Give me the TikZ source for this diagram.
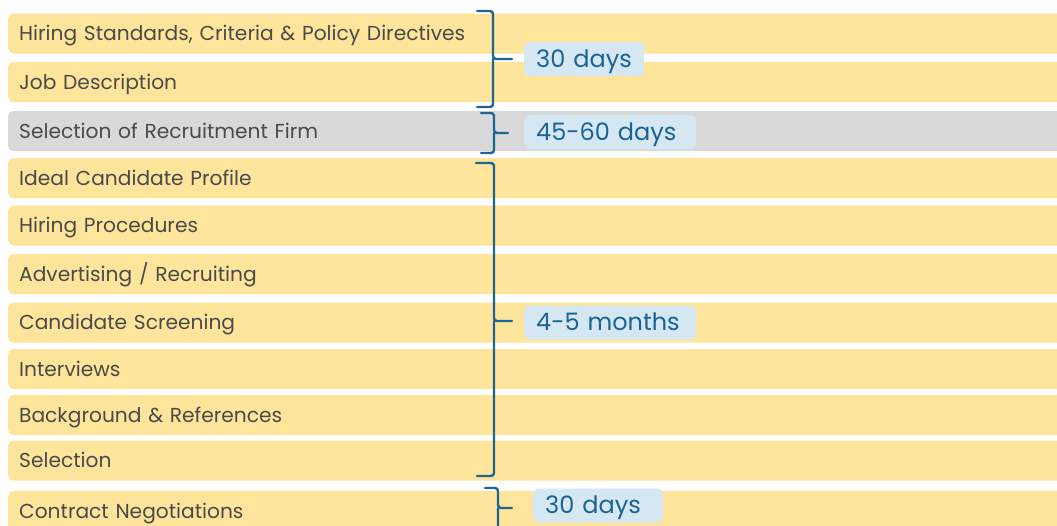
\documentclass[tikz,border=0pt]{standalone}
\usepackage{fontspec}
\setmainfont{Poppins}
\definecolor{barYellow}{HTML}{FEE59B}
\definecolor{barGrey}{HTML}{D9D9D9}
\definecolor{labelGray}{HTML}{4A4A4A}
\definecolor{boxBlue}{HTML}{D4E7F3}
\definecolor{dayBlue}{HTML}{1B6394}
\definecolor{braceBlue}{HTML}{1D6593}
\tikzset{
  bar/.style={fill=barYellow,rounded corners=5pt,minimum height=40pt,anchor=west,
    text width=1040pt,inner xsep=11pt,inner ysep=0pt,align=left,text=labelGray,
    text height=17pt,text depth=3pt,
    font=\fontsize{20.2}{22}\selectfont},
  greybar/.style={bar,fill=barGrey},
  daybox/.style={fill=boxBlue,rounded corners=6pt,minimum height=34pt,anchor=west,
    inner xsep=12pt,inner ysep=0pt,align=left,text=dayBlue,
    text height=19pt,text depth=3pt,
    font=\fontsize{24}{26}\selectfont},
  brace/.style={draw=braceBlue,line width=2.4pt,rounded corners=3pt}
}
\begin{document}
\begin{tikzpicture}[x=1pt,y=-1pt,line join=round,line cap=round]
		\useasboundingbox (0,0) rectangle (1057,525);
		\clip (0,0) rectangle (1057,525);
		% steps
		\node[bar] (standards) at (8,33.5) {Hiring Standards, Criteria \& Policy Directives};
		\node[bar] (jobdesc) at (8,82) {Job Description};
		\node[greybar] (firm) at (8,131) {Selection of Recruitment Firm};
		\node[bar] (profile) at (8,178) {Ideal Candidate Profile};
		\node[bar] (procedures) at (8,225.5) {Hiring Procedures};
		\node[bar] (advert) at (8,274) {Advertising / Recruiting};
		\node[bar] (screening) at (8,322.5) {Candidate Screening};
		\node[bar] (interviews) at (8,369) {Interviews};
		\node[bar] (background) at (8,415) {Background \& References};
		\node[bar] (selection) at (8,460.5) {Selection};
		\node[bar] (contract) at (8,511) {Contract Negotiations};
		% durations
		\node[daybox,text width=96pt] (d30a) at (524,59) {30 days};
		\node[daybox,text width=148pt] (d4560) at (524,132) {45-60 days};
		\node[daybox,text width=148pt] (d45m) at (524,322.5) {4-5 months};
		\node[daybox,text width=106pt] (d30b) at (533,505.5) {30 days};
		% brackets
		\draw[brace] (477,11) -| (493,59) -- (512,59) (493,59) |- (477,107);
		\draw[brace] (481,113) -| (494,133) -- (508,133) (494,133) |- (481,153);
		\draw[brace] (476,163) -| (494,321) -- (512,321) (494,321) |- (477,476);
		\draw[brace] (485,488) -| (498,508) -- (512,508) (498,508) -- (498,540);
		\end{tikzpicture}
\end{document}
